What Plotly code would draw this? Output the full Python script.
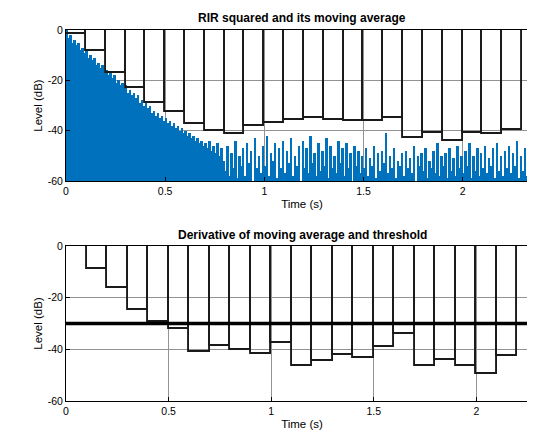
import numpy as np
import plotly.graph_objects as go
from plotly.subplots import make_subplots

# ---- data ----
dt = 0.01  # sampling step of the RIR-squared trace (s)
rir_db = [
    0, -3, -2, -5, -4, -6, -5, -8, -7, -9,
    -8, -11, -10, -12, -11, -14, -13, -15, -14, -17,
    -16, -18, -17, -19, -18, -21, -20, -22, -21, -23,
    -22, -25, -24, -26, -25, -27, -26, -29, -28, -30,
    -29, -31, -30, -33, -32, -34, -33, -35, -34, -36,
    -35, -37, -36, -38, -37, -39, -38, -40, -39, -41,
    -40, -42, -41, -43, -42, -44, -43, -45, -44, -46,
    -45, -47, -44, -48, -46, -49, -45, -50, -47, -52,
    -56, -46, -58, -49, -55, -44, -59, -50, -54, -47,
    -58, -45, -53, -48, -60, -43, -55, -50, -57, -46,
    -54, -42, -58, -49, -52, -45, -59, -47, -55, -44,
    -57, -48, -53, -43, -58, -50, -54, -46, -60, -44,
    -55, -47, -57, -42, -53, -49, -58, -45, -56, -48,
    -54, -43, -59, -46, -55, -50, -57, -44, -53, -47,
    -58, -45, -55, -49, -60, -46, -54, -48, -57, -50,
    -55, -47, -58, -51, -54, -46, -59, -49, -56, -48,
    -53, -41, -57, -50, -55, -47, -59, -52, -54, -49,
    -58, -48, -55, -51, -57, -46, -60, -50, -54, -49,
    -56, -47, -59, -52, -55, -48, -57, -45, -58, -50,
    -54, -49, -59, -47, -56, -51, -58, -46, -55, -50,
    -57, -48, -54, -45, -59, -50, -56, -47, -58, -49,
    -55, -46, -57, -51, -54, -47, -59, -45, -56, -50,
    -58, -48, -55, -46, -57, -49, -54, -44, -59, -50,
    -56, -47, -58, -49, -55, -57,
]

win = 0.1  # moving-average window length (s)
movavg_db = [-1.5, -8.5, -17, -23, -29, -32.7, -37.5, -40.2, -41.5, -38.2,
             -36.9, -35.6, -34.9, -35.6, -36.1, -36.2, -34.9, -42.9, -40.9,
             -44, -40.9, -41.5, -39.7]
deriv_db = [0, -9, -16.4, -24.8, -29.5, -32.3, -41, -38.6, -40.3, -41.6,
            -37.5, -46.5, -44.5, -42.2, -43.5, -39.2, -34.2, -46.5, -44.2,
            -46.5, -49.6, -42.6]
threshold_db = -30
top_xmax = 2.38
bot_xmax = 2.30
floor_db = -60

x_ticks = [0, 0.5, 1, 1.5, 2]
x_ticktext = ["0", "0.5", "1", "1.5", "2"]
y_ticks = [-60, -40, -20, 0]
y_ticktext = ["-60", "-40", "-20", "0"]

# ---- figure ----
FONT = "Liberation Sans, Arial, Helvetica, sans-serif"
BLUE = "#0072BD"

t = np.arange(len(rir_db)) * dt
rir = np.array(rir_db, dtype=float)
ma_x = (np.arange(len(movavg_db)) + 0.5) * win
dv_x = (np.arange(len(deriv_db)) + 0.5) * win

fig = make_subplots(rows=2, cols=1, vertical_spacing=0.175)

fig.add_trace(go.Bar(x=t + dt / 2, y=rir - floor_db, base=floor_db, width=dt,
                     marker=dict(color=BLUE, line=dict(width=0)),
                     showlegend=False), row=1, col=1)
fig.add_trace(go.Bar(x=ma_x, y=movavg_db, width=win,
                     marker=dict(color="rgba(0,0,0,0)",
                                 line=dict(color="#1a1a1a", width=1.9)),
                     showlegend=False), row=1, col=1)

fig.add_trace(go.Bar(x=dv_x, y=deriv_db, width=win,
                     marker=dict(color="rgba(0,0,0,0)",
                                 line=dict(color="#1a1a1a", width=1.9)),
                     showlegend=False), row=2, col=1)
fig.add_trace(go.Scatter(x=[0, bot_xmax], y=[threshold_db, threshold_db],
                         mode="lines", line=dict(color="black", width=3.5),
                         showlegend=False), row=2, col=1)

axis_common = dict(showline=True, mirror=True, linecolor="black", linewidth=1,
                   ticks="inside", ticklen=4, tickcolor="black",
                   showgrid=True, gridcolor="#939393", gridwidth=1,
                   zeroline=False, tickfont=dict(size=10.5, color="black", family=FONT))

fig.update_xaxes(**axis_common, tickvals=x_ticks, ticktext=x_ticktext,
                 title=dict(text="Time (s)", font=dict(size=11.5, family=FONT, color="black"),
                            standoff=4))
fig.update_yaxes(**axis_common, tickvals=y_ticks, ticktext=y_ticktext,
                 title=dict(text="Level (dB)", font=dict(size=11.5, family=FONT, color="black"),
                            standoff=2))
fig.update_xaxes(range=[0, top_xmax], row=1, col=1)
fig.update_xaxes(range=[0, bot_xmax], row=2, col=1)
fig.update_yaxes(range=[floor_db, 0], row=1, col=1)
fig.update_yaxes(range=[floor_db, 0], row=2, col=1)

fig.update_layout(
    width=535, height=435,
    margin=dict(l=58, r=5, t=22, b=42),
    paper_bgcolor="white", plot_bgcolor="white",
    barmode="overlay", bargap=0,
    font=dict(family=FONT, color="black"),
    annotations=[
        dict(text="<b>RIR squared and its moving average</b>", xref="x domain", yref="y domain",
             x=0.5, y=1.0, yshift=3, xanchor="center", yanchor="bottom", showarrow=False,
             font=dict(size=12, family=FONT, color="black")),
        dict(text="<b>Derivative of moving average and threshold</b>", xref="x2 domain", yref="y2 domain",
             x=0.5, y=1.0, yshift=2, xanchor="center", yanchor="bottom", showarrow=False,
             font=dict(size=12, family=FONT, color="black")),
    ],
)
fig.update_yaxes(domain=[0.593, 1.0], row=1, col=1)
fig.update_yaxes(domain=[0.0, 0.418], row=2, col=1)

fig.write_html("out.html")
